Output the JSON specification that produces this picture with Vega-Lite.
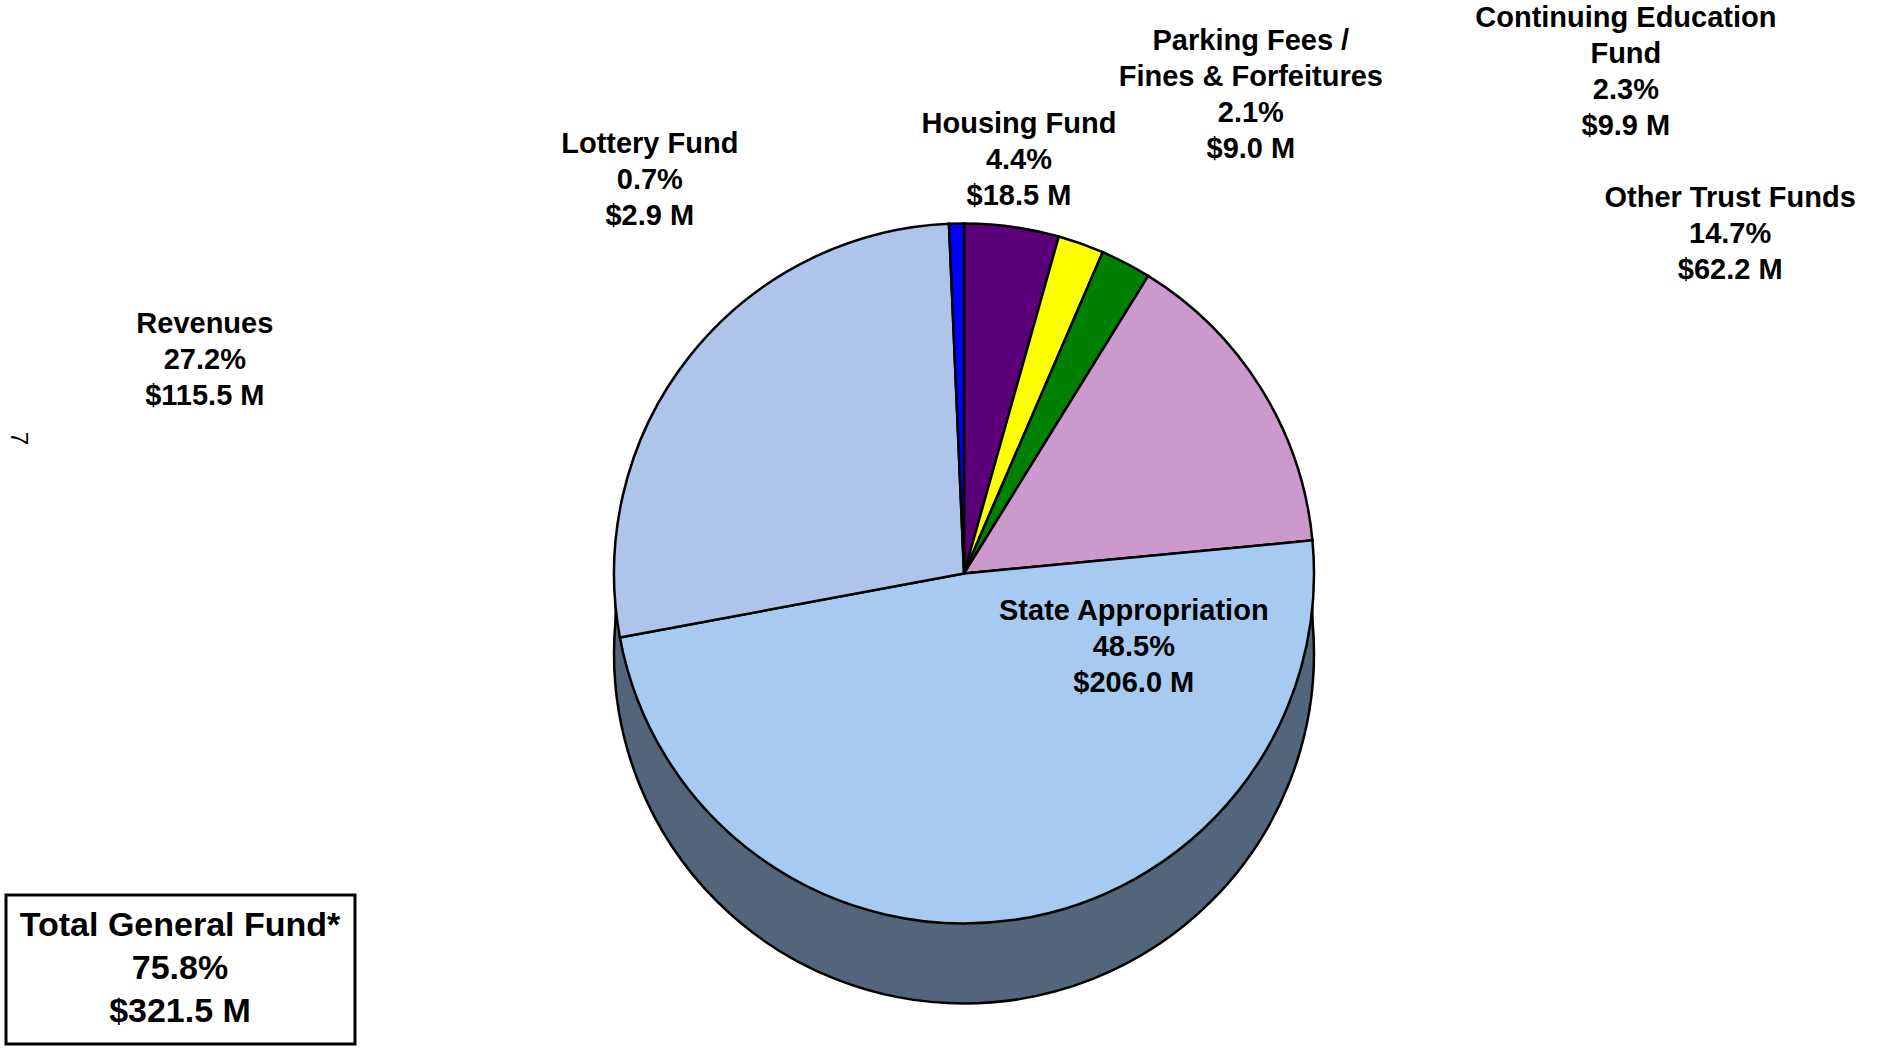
{
  "$schema": "https://vega.github.io/schema/vega-lite/v6.json",
  "width": 1877,
  "height": 1051,
  "autosize": {"type": "fit", "contains": "padding"},
  "padding": {"left": 5, "right": 5, "top": 101, "bottom": 2},
  "background": "white",
  "title": {"text": "7", "orient": "left", "angle": 90, "fontSize": 24, "font": "Liberation Sans", "fontWeight": "normal", "anchor": "middle", "offset": 2, "dx": -135, "color": "black"},
  "config": {
    "view": {"stroke": null},
    "font": "Liberation Sans",
    "legend": {"strokeWidth": 3},
    "text": {"font": "Liberation Sans", "fontWeight": "bold", "fontSize": 29, "lineBreak": "\n", "lineHeight": 36, "align": "center", "baseline": "middle", "color": "black"}
  },
  "data": {"values": [
    {"category": "Housing Fund", "amount": 18.5, "order": 1, "fund": "Other", "label": "Housing Fund\n4.4%\n$18.5 M"},
    {"category": "Parking Fees / Fines & Forfeitures", "amount": 9.0, "order": 2, "fund": "Other", "label": "Parking Fees /\nFines & Forfeitures\n2.1%\n$9.0 M"},
    {"category": "Continuing Education Fund", "amount": 9.9, "order": 3, "fund": "Other", "label": "Continuing Education\nFund\n2.3%\n$9.9 M"},
    {"category": "Other Trust Funds", "amount": 62.2, "order": 4, "fund": "Other", "label": "Other Trust Funds\n14.7%\n$62.2 M"},
    {"category": "State Appropriation", "amount": 206.0, "order": 5, "fund": "General", "label": "State Appropriation\n48.5%\n$206.0 M"},
    {"category": "Revenues", "amount": 115.5, "order": 6, "fund": "General", "label": "Revenues\n27.2%\n$115.5 M"},
    {"category": "Lottery Fund", "amount": 2.9, "order": 7, "fund": "Other", "label": "Lottery Fund\n0.7%\n$2.9 M"}
  ]},
  "layer": [
    {
      "transform": [{"aggregate": [{"op": "sum", "field": "amount", "as": "total"}]}],
      "mark": {"type": "arc", "radius": 350, "yOffset": 40, "fill": "#52657A", "strokeWidth": 0},
      "encoding": {"theta": {"field": "total", "type": "quantitative"}}
    },
    {
      "transform": [{"aggregate": [{"op": "sum", "field": "amount", "as": "total"}]}],
      "mark": {"type": "arc", "radius": 350, "yOffset": 80, "fill": "#52657A", "stroke": "black", "strokeWidth": 2.5},
      "encoding": {"theta": {"field": "total", "type": "quantitative"}}
    },
    {
      "mark": {"type": "arc", "radius": 350, "stroke": "black", "strokeWidth": 2.5},
      "encoding": {
        "theta": {"field": "amount", "type": "quantitative", "stack": true},
        "color": {"field": "category", "type": "nominal", "legend": null,
          "scale": {"domain": ["Housing Fund", "Parking Fees / Fines & Forfeitures", "Continuing Education Fund", "Other Trust Funds", "State Appropriation", "Revenues", "Lottery Fund"],
                    "range": ["#5C0079", "#FFFF00", "#008000", "#CC99CC", "#A6CAF0", "#AEC4EA", "#0000FF"]}},
        "order": {"field": "order", "type": "quantitative"}
      }
    },
    {
      "mark": {"type": "text", "radius": 453, "thetaOffset": -0.0154},
      "encoding": {
        "theta": {"field": "amount", "type": "quantitative", "stack": true},
        "detail": {"field": "category", "type": "nominal"},
        "order": {"field": "order", "type": "quantitative"},
        "text": {"condition": {"test": "datum.category === 'Housing Fund'", "field": "label"}, "value": ""}
      }
    },
    {
      "mark": {"type": "text", "radius": 605, "thetaOffset": 0.1531},
      "encoding": {
        "theta": {"field": "amount", "type": "quantitative", "stack": true},
        "detail": {"field": "category", "type": "nominal"},
        "order": {"field": "order", "type": "quantitative"},
        "text": {"condition": {"test": "datum.category === 'Parking Fees / Fines & Forfeitures'", "field": "label"}, "value": ""}
      }
    },
    {
      "mark": {"type": "text", "radius": 864, "thetaOffset": 0.3918},
      "encoding": {
        "theta": {"field": "amount", "type": "quantitative", "stack": true},
        "detail": {"field": "category", "type": "nominal"},
        "order": {"field": "order", "type": "quantitative"},
        "text": {"condition": {"test": "datum.category === 'Continuing Education Fund'", "field": "label"}, "value": ""}
      }
    },
    {
      "mark": {"type": "text", "radius": 853, "thetaOffset": 0.1005},
      "encoding": {
        "theta": {"field": "amount", "type": "quantitative", "stack": true},
        "detail": {"field": "category", "type": "nominal"},
        "order": {"field": "order", "type": "quantitative"},
        "text": {"condition": {"test": "datum.category === 'Other Trust Funds'", "field": "label"}, "value": ""}
      }
    },
    {
      "mark": {"type": "text", "radius": 174, "thetaOffset": -1.2116},
      "encoding": {
        "theta": {"field": "amount", "type": "quantitative", "stack": true},
        "detail": {"field": "category", "type": "nominal"},
        "order": {"field": "order", "type": "quantitative"},
        "text": {"condition": {"test": "datum.category === 'State Appropriation'", "field": "label"}, "value": ""}
      }
    },
    {
      "mark": {"type": "text", "radius": 799, "thetaOffset": -0.355},
      "encoding": {
        "theta": {"field": "amount", "type": "quantitative", "stack": true},
        "detail": {"field": "category", "type": "nominal"},
        "order": {"field": "order", "type": "quantitative"},
        "text": {"condition": {"test": "datum.category === 'Revenues'", "field": "label"}, "value": ""}
      }
    },
    {
      "mark": {"type": "text", "radius": 532, "thetaOffset": -0.6103},
      "encoding": {
        "theta": {"field": "amount", "type": "quantitative", "stack": true},
        "detail": {"field": "category", "type": "nominal"},
        "order": {"field": "order", "type": "quantitative"},
        "text": {"condition": {"test": "datum.category === 'Lottery Fund'", "field": "label"}, "value": ""}
      }
    },
    {
      "transform": [
        {"filter": "datum.fund === 'General'"},
        {"aggregate": [{"op": "sum", "field": "amount", "as": "total"}], "groupby": ["fund"]}
      ],
      "mark": {"type": "text", "text": ""},
      "encoding": {
        "opacity": {"field": "fund", "type": "nominal", "scale": {"range": [1, 1]},
          "legend": {
            "title": ["Total General Fund*", "75.8%", "$321.5 M"],
            "orient": "none", "legendX": -50, "legendY": 455, "padding": 14,
            "strokeColor": "black", "fillColor": "white",
            "titleFontSize": 34, "titleFont": "Liberation Sans", "titleFontWeight": "bold",
            "titleLineHeight": 43, "titleAlign": "center", "titleAnchor": "middle",
            "titleColor": "black", "titlePadding": 0, "titleLimit": 1000,
            "labelExpr": "''", "labelFontSize": 1, "symbolSize": 0, "symbolOpacity": 0, "symbolStrokeWidth": 0
          }}
      }
    }
  ]
}
